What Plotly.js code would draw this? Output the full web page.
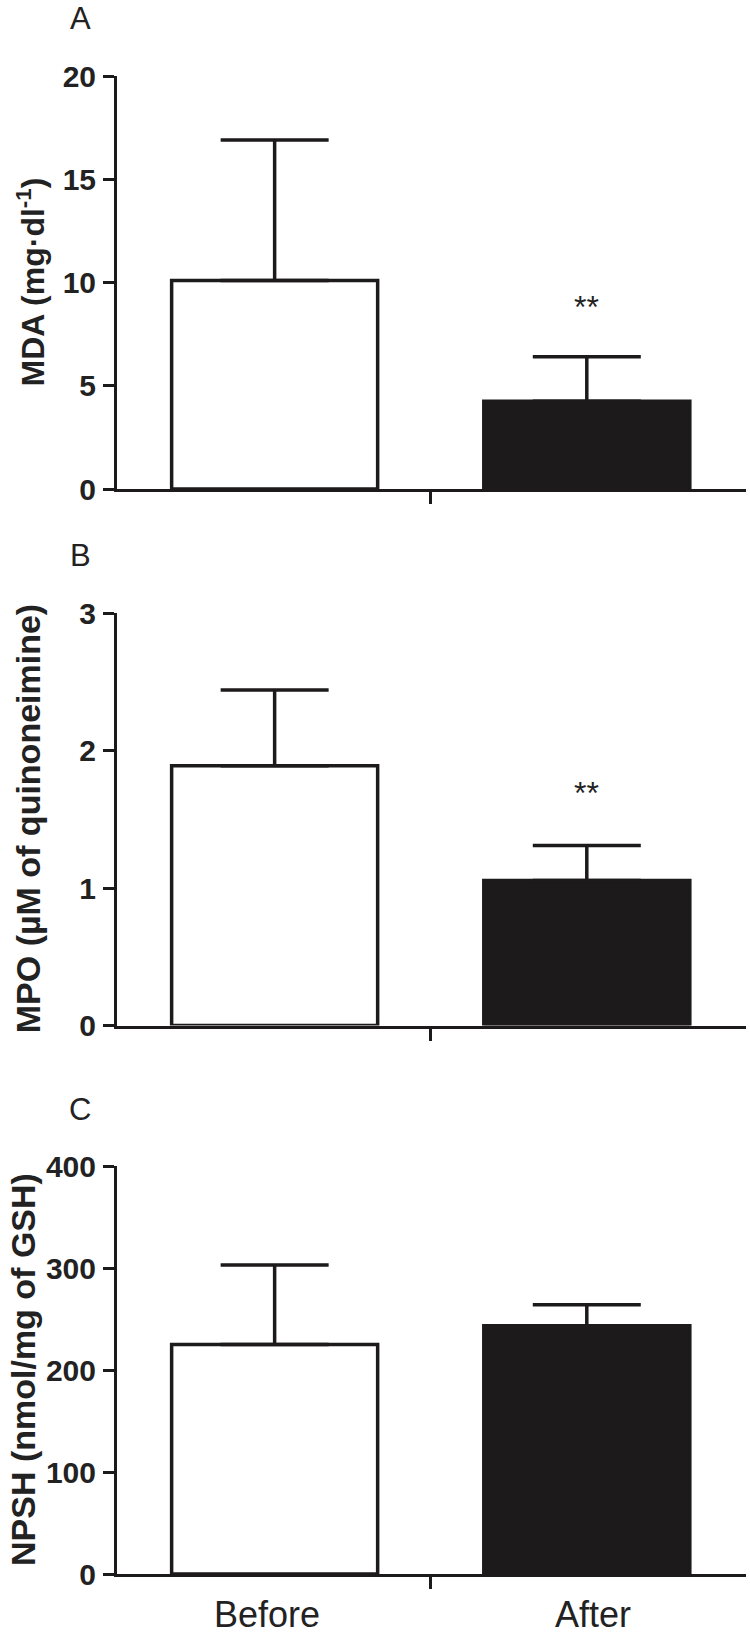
<!DOCTYPE html>
<html>
<head>
<meta charset="utf-8">
<script src="https://cdn.plot.ly/plotly-3.0.1.min.js"></script>
<style>
  html, body { margin: 0; padding: 0; background: #fff; }
  #chart { width: 750px; height: 1643px; }
</style>
</head>
<body>
<div id="chart"></div>
<script>
// Data
const categories = ['Before', 'After'];
const xPos = [0, 1];

const mdaMean = [10.1, 4.25];
const mdaErr = [6.8, 2.15];

const mpoMean = [1.89, 1.055];
const mpoErr = [0.55, 0.255];

const npshMean = [225, 243.5];
const npshErr = [78, 20.5];

const panelLetters = ['A', 'B', 'C'];
const panelTitles = ['MDA (mg·dl<sup>-1</sup>)', 'MPO (µM of quinoneimine)', 'NPSH (nmol/mg of GSH)'];
const yRanges = [[0, 20], [0, 3], [0, 400]];
const yTicks = [[0, 5, 10, 15, 20], [0, 1, 2, 3], [0, 100, 200, 300, 400]];
const starY = [8.8, 1.69, null];   // "**" marks over the After bar

const H = 1643;
const ink = '#1c1a1b';
const fillColors = ['#ffffff', ink];

// pixel positions of each plot (top, bottom)
const plotPx = [[76, 489], [613, 1025.5], [1166, 1574]];
const titleX = [30, 28, 23];
const titleSize = [32, 34, 34];
const labelShift = [-0.025, 0.02];

const means = [mdaMean, mpoMean, npshMean];
const errs = [mdaErr, mpoErr, npshErr];

const data = [];
const layout = {
    width: 750,
    height: 1643,
    margin: { l: 117, r: 4, t: 0, b: 0 },
    paper_bgcolor: '#fff',
    plot_bgcolor: '#fff',
    showlegend: false,
    annotations: [],
    font: { family: 'Liberation Sans, Arial, sans-serif', color: '#222' }
};

for (let i = 0; i < 3; i++) {
    const s = i === 0 ? '' : String(i + 1);
    data.push({
        type: 'bar',
        x: xPos,
        y: means[i],
        width: 0.66,
        xaxis: 'x' + s,
        yaxis: 'y' + s,
        marker: { color: fillColors, line: { color: ink, width: 3.5 } },
        error_y: {
            type: 'data',
            symmetric: false,
            array: errs[i],
            arrayminus: [0, 0],
            color: ink,
            thickness: 3.5,
            width: 54
        },
        hoverinfo: 'skip'
    });

    const top = plotPx[i][0], bot = plotPx[i][1];
    layout['xaxis' + s] = {
        anchor: 'y' + s,
        range: [-0.505, 1.51],
        showline: true,
        linewidth: 3,
        linecolor: ink,
        ticks: 'outside',
        ticklen: 12,
        tickwidth: 3,
        tickcolor: ink,
        tickvals: [0.5],
        showticklabels: false,
        showgrid: false,
        zeroline: false,
        fixedrange: true
    };
    layout['yaxis' + s] = {
        anchor: 'x' + s,
        domain: [(H - bot) / H, (H - top) / H],
        range: yRanges[i],
        tickvals: yTicks[i],
        showline: true,
        linewidth: 3,
        linecolor: ink,
        ticks: 'outside',
        ticklen: 11,
        tickwidth: 3,
        tickcolor: ink,
        ticklabelstandoff: 1,
        tickfont: { family: 'Liberation Sans, Arial, sans-serif', size: 30, weight: 'bold', color: '#222' },
        showgrid: false,
        zeroline: false,
        fixedrange: true
    };

    // panel letter
    layout.annotations.push({
        text: panelLetters[i],
        xref: 'paper', yref: 'paper',
        x: (80 - 117) / 629, y: (H - (top - 57)) / H,
        xanchor: 'center', yanchor: 'middle',
        showarrow: false,
        font: { size: 31, color: '#222' }
    });

    // y title
    layout.annotations.push({
        text: panelTitles[i],
        xref: 'paper', yref: 'y' + s + ' domain',
        x: (titleX[i] - 117) / 629, y: 0.5,
        xanchor: 'center', yanchor: 'middle',
        textangle: -90,
        showarrow: false,
        font: { size: titleSize[i], weight: 'bold', color: '#222' }
    });

    if (starY[i] !== null) {
        layout.annotations.push({
            text: '**',
            xref: 'x' + s, yref: 'y' + s,
            x: xPos[1], y: starY[i],
            xanchor: 'center', yanchor: 'middle',
            showarrow: false,
            font: { size: 32, color: '#222' }
        });
    }
}

// category labels under the last panel
categories.forEach((c, k) => {
    layout.annotations.push({
        text: c,
        xref: 'x3', yref: 'paper',
        x: xPos[k] + labelShift[k], y: (H - 1614) / H,
        xanchor: 'center', yanchor: 'middle',
        showarrow: false,
        font: { size: 36, color: '#222' }
    });
});

Plotly.newPlot('chart', data, layout, { staticPlot: true });
</script>
</body>
</html>
